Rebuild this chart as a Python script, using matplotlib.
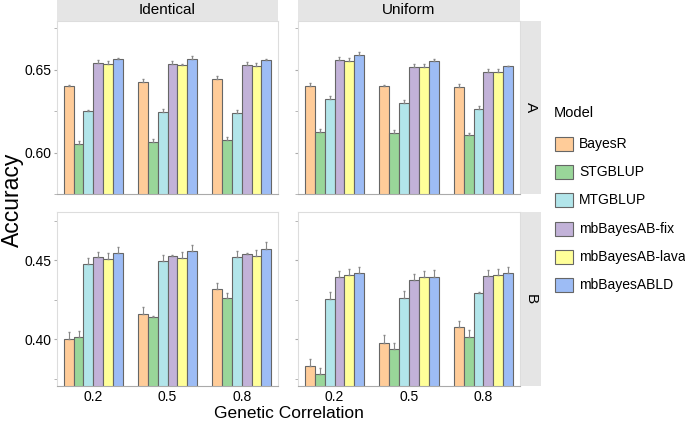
import matplotlib
matplotlib.use("Agg")
import matplotlib.pyplot as plt
import matplotlib.transforms as mtransforms
from matplotlib.patches import Rectangle
import numpy as np

# data (upper half of the error bar only)
models = ["BayesR", "STGBLUP", "MTGBLUP", "mbBayesAB-fix", "mbBayesAB-lava", "mbBayesABLD"]
corr_labels = ["0.2", "0.5", "0.8"]
colors = ["#FFCC99", "#99D699", "#B2E5EA", "#C2B2D8", "#FFFF99", "#9DBCF5"]

# rows = model, columns = genetic correlation 0.2 / 0.5 / 0.8
ident_a = [[0.6402, 0.6425, 0.6443],
           [0.6052, 0.6066, 0.6078],
           [0.6251, 0.6247, 0.6239],
           [0.6540, 0.6535, 0.6526],
           [0.6535, 0.6530, 0.6521],
           [0.6567, 0.6564, 0.6558]]
ident_a_se = [[0.0004, 0.0018, 0.0020],
              [0.0015, 0.0018, 0.0018],
              [0.0004, 0.0018, 0.0017],
              [0.0017, 0.0018, 0.0018],
              [0.0018, 0.0004, 0.0020],
              [0.0004, 0.0017, 0.0004]]

unif_a = [[0.6402, 0.6402, 0.6398],
          [0.6123, 0.6119, 0.6104],
          [0.6326, 0.6297, 0.6264],
          [0.6558, 0.6518, 0.6489],
          [0.6553, 0.6517, 0.6485],
          [0.6587, 0.6550, 0.6521]]
unif_a_se = [[0.0020, 0.0004, 0.0017],
             [0.0018, 0.0018, 0.0014],
             [0.0018, 0.0018, 0.0017],
             [0.0018, 0.0017, 0.0017],
             [0.0018, 0.0018, 0.0018],
             [0.0018, 0.0015, 0.0004]]

ident_b = [[0.4002, 0.4162, 0.4317],
           [0.4015, 0.4139, 0.4260],
           [0.4473, 0.4496, 0.4519],
           [0.4519, 0.4525, 0.4538],
           [0.4504, 0.4513, 0.4523],
           [0.4544, 0.4557, 0.4570]]
ident_b_se = [[0.0042, 0.0042, 0.0040],
              [0.0038, 0.0010, 0.0034],
              [0.0038, 0.0038, 0.0040],
              [0.0032, 0.0010, 0.0010],
              [0.0042, 0.0040, 0.0038],
              [0.0042, 0.0040, 0.0042]]

unif_b = [[0.3829, 0.3979, 0.4076],
          [0.3781, 0.3937, 0.4015],
          [0.4257, 0.4259, 0.4291],
          [0.4392, 0.4373, 0.4397],
          [0.4405, 0.4392, 0.4405],
          [0.4418, 0.4392, 0.4418]]
unif_b_se = [[0.0044, 0.0048, 0.0042],
             [0.0040, 0.0042, 0.0042],
             [0.0042, 0.0046, 0.0010],
             [0.0040, 0.0040, 0.0042],
             [0.0040, 0.0042, 0.0042],
             [0.0040, 0.0044, 0.0040]]

plt.rcParams["font.family"] = ["Liberation Sans", "DejaVu Sans"]

W, H = 685, 422
fig = plt.figure(figsize=(W / 100, H / 100), dpi=100)


def box(x0, y0, x1, y1):
    return [x0 / W, 1 - y1 / H, (x1 - x0) / W, (y1 - y0) / H]


def draw_panel(ax, vals, errs, ylim, yticks, ylabels, xlabels):
    x = np.arange(1, 4)
    bw = 0.8 / len(models)
    for i, m in enumerate(models):
        pos = x + (i - 2.5) * bw
        ax.bar(pos, vals[i], width=bw, color=colors[i], edgecolor="#666666",
               linewidth=0.8, zorder=2)
        ax.errorbar(pos, vals[i], yerr=[np.zeros(3), errs[i]], fmt="none",
                    ecolor="#888888", elinewidth=0.8, capsize=0.6, zorder=3)
    ax.set_xlim(0.51, 3.49)
    ax.set_ylim(*ylim)
    ax.set_yticks(yticks)
    ax.set_yticks([yticks[0] - 0.025, yticks[0] + 0.025, yticks[1] + 0.025], minor=True)
    if ylabels:
        ax.set_yticklabels(["%.2f" % t for t in yticks])
    else:
        ax.set_yticklabels([])
    ax.tick_params(axis="y", which="both", length=2, color="#AAAAAA",
                   labelsize=10, pad=2)
    ax.set_xticks(x)
    if xlabels:
        ax.set_xticklabels(corr_labels)
        offset = mtransforms.ScaledTranslation(3 / 100, 0, fig.dpi_scale_trans)
        for lab in ax.get_xticklabels():
            lab.set_transform(lab.get_transform() + offset)
    else:
        ax.set_xticklabels([])
    ax.tick_params(axis="x", length=0, labelsize=10, pad=3)
    for s in ax.spines.values():
        s.set_color("#DDDDDD")
        s.set_linewidth(0.8)
    ax.spines["bottom"].set_color("#AAAAAA")


def strip(rect, text, rot=0):
    sa = fig.add_axes(box(*rect))
    sa.set_facecolor("#E5E5E5")
    sa.set_xticks([])
    sa.set_yticks([])
    for s in sa.spines.values():
        s.set_visible(False)
    sa.text(0.5, 0.5, text, ha="center", va="center", rotation=rot,
            fontsize=11, transform=sa.transAxes)


ax_tl = fig.add_axes(box(57, 21, 278, 194))
ax_tr = fig.add_axes(box(298, 21, 520, 194))
ax_bl = fig.add_axes(box(57, 212, 278, 386))
ax_br = fig.add_axes(box(298, 212, 520, 386))

top_lim = (0.60, 0.6794)
bot_lim = (0.3705, 0.4804)
draw_panel(ax_tl, ident_a, ident_a_se, top_lim, [0.60, 0.65], True, False)
draw_panel(ax_tr, unif_a, unif_a_se, top_lim, [0.60, 0.65], False, False)
draw_panel(ax_bl, ident_b, ident_b_se, bot_lim, [0.40, 0.45], True, True)
draw_panel(ax_br, unif_b, unif_b_se, bot_lim, [0.40, 0.45], False, True)

strip((57, 0, 278, 21), "Identical")
strip((298, 0, 520, 21), "Uniform")
strip((521, 21, 541, 194), "A", rot=-90)
strip((521, 212, 541, 386), "B", rot=-90)

fig.text(12 / W, 1 - 200 / H, "Accuracy", rotation=90, ha="center", va="center", fontsize=16.5)
fig.text(288.5 / W, 1 - 413 / H, "Genetic Correlation", ha="center", va="center", fontsize=12.5)

# legend
fig.text(554 / W, 1 - 113 / H, "Model", ha="left", va="center", fontsize=10.5)
for i, m in enumerate(models):
    yc = 144 + i * 28.2
    fig.patches.append(Rectangle((555 / W, 1 - (yc + 7) / H), 18 / W, 14 / H,
                                 transform=fig.transFigure, facecolor=colors[i],
                                 edgecolor="#666666", linewidth=0.8))
    fig.text(579 / W, 1 - yc / H, m, ha="left", va="center", fontsize=10)

fig.savefig("out.png", dpi=100)
